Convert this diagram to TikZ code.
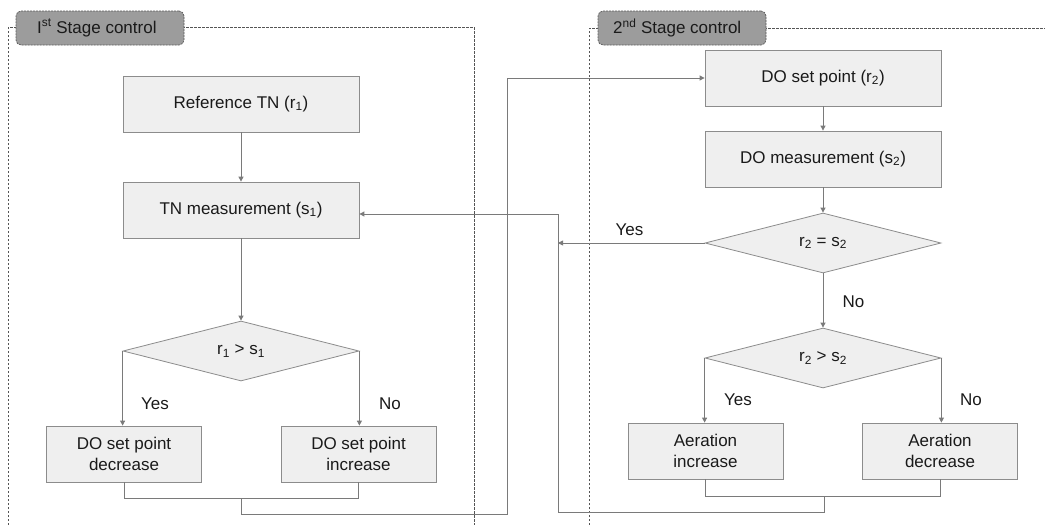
\documentclass[tikz,border=0pt]{standalone}
\usepackage{fontspec}
\setmainfont{Liberation Sans}
\usetikzlibrary{shapes.geometric,arrows.meta}
\definecolor{boxfill}{HTML}{EFEFEF}
\definecolor{boxline}{HTML}{8C8C8C}
\definecolor{conn}{HTML}{7A7A7A}
\definecolor{txt}{HTML}{1A1A1A}
\definecolor{tagfill}{HTML}{9C9C9C}
\definecolor{tagline}{HTML}{5A5A5A}
\definecolor{frameline}{HTML}{555555}
\begin{document}
\begin{tikzpicture}[x=1pt,y=-1pt,
  font=\fontsize{17}{21.5}\selectfont,
  every node/.style={text=txt},
  stepbox/.style={draw=boxline, line width=0.8pt, fill=boxfill, minimum width=236pt, minimum height=56pt, inner sep=0pt, align=center},
  smallbox/.style={stepbox, minimum width=155pt},
  decision/.style={diamond, draw=boxline, line width=0.8pt, fill=boxfill, aspect=4, inner sep=0pt, minimum width=236pt, minimum height=60pt},
  conline/.style={draw=conn, line width=0.9pt},
  arr/.style={conline, -{Triangle[width=5pt,length=5pt]}},
  frame/.style={draw=frameline, line width=0.5pt, dash pattern=on 2.5pt off 1.5pt},
  tag/.style={draw=tagline, line width=0.7pt, dash pattern=on 2pt off 1pt, fill=tagfill, rounded corners=5pt, minimum width=168pt, minimum height=34pt, inner sep=0pt},
  lbl/.style={inner sep=0pt}
]
\useasboundingbox (0,0) rectangle (1045,525);
\fill[white] (0,0) rectangle (1045,525);

% frames
\draw[frame] (8,525) -- (8,27) -- (474,27) -- (474,525);
\draw[frame] (589,525) -- (589,28) -- (1045,28);
\node[tag] (tag1) at (100,28) {};
\node[lbl, anchor=west] (tag1t) at (37,28) {I\textsuperscript{st} Stage control};
\node[tag] (tag2) at (682,28) {};
\node[lbl, anchor=west] (tag2t) at (613,28) {2\textsuperscript{nd} Stage control};

% first stage
\node[stepbox] (ref) at (241,104) {Reference TN (r\textsubscript{1})};
\node[stepbox] (tnm) at (241,210) {TN measurement (s\textsubscript{1})};
\node[decision] (d1) at (241,351) {r\textsubscript{1} > s\textsubscript{1}};
\node[smallbox] (dec1) at (124,454) {DO set point\\decrease};
\node[smallbox] (inc1) at (358.5,454) {DO set point\\increase};

% second stage
\node[stepbox] (dsp) at (823,78) {DO set point (r\textsubscript{2})};
\node[stepbox] (dom) at (823,159) {DO measurement (s\textsubscript{2})};
\node[decision] (d2) at (823,243) {r\textsubscript{2} = s\textsubscript{2}};
\node[decision] (d3) at (823,358) {r\textsubscript{2} > s\textsubscript{2}};
\node[smallbox] (aer1) at (705.5,451) {Aeration\\increase};
\node[smallbox] (aer2) at (940,451) {Aeration\\decrease};

% coordinates
\coordinate (m1) at (241,498);
\coordinate (b1) at (507,514);
\coordinate (m2) at (824,496);
\coordinate (b2) at (558,512);

% connectors stage 1
\draw[arr] (ref.south) -- (tnm.north);
\draw[arr] (tnm.south) -- (d1.north);
\draw[arr] (d1.west) -- (d1.west |- dec1.north);
\draw[arr] (d1.east) -- (d1.east |- inc1.north);
\draw[conline] (dec1.south) |- (inc1.south |- m1) -- (inc1.south);
\draw[arr] (m1) |- (b1) |- (dsp.west);

% connectors stage 2
\draw[arr] (dsp.south) -- (dom.north);
\draw[arr] (dom.south) -- (d2.north);
\draw[arr] (d2.south) -- (d3.north);
\draw[arr] (d2.west) -- (d2.west -| b2);
\draw[arr] (d3.west) -- (d3.west |- aer1.north);
\draw[arr] (d3.east) -- (d3.east |- aer2.north);
\draw[conline] (aer1.south) |- (aer2.south |- m2) -- (aer2.south);
\draw[arr] (m2) |- (b2) |- ([yshift=-4pt]tnm.east);

% labels
\node[lbl] (y1) at (155,404) {Yes};
\node[lbl] (n1) at (390,404) {No};
\node[lbl] (y2) at (629.5,230) {Yes};
\node[lbl] (n2) at (853.5,302) {No};
\node[lbl] (y3) at (738,400) {Yes};
\node[lbl] (n3) at (971,400) {No};
\end{tikzpicture}
\end{document}
